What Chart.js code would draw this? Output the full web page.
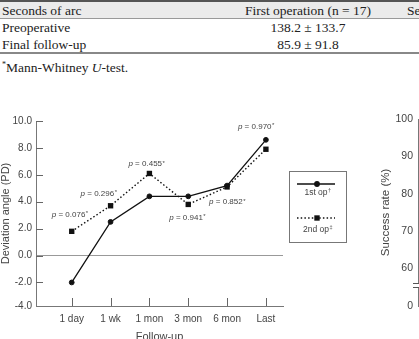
<!DOCTYPE html>
<html>
<head>
<meta charset="utf-8">
<script src="https://cdn.jsdelivr.net/npm/chart.js@4.4.1/dist/chart.umd.min.js"></script>
<style>
  html, body { margin: 0; padding: 0; background: #fff; overflow: hidden; }
  #page { position: relative; width: 419px; height: 339px; overflow: hidden; }
  .t { position: absolute; font-family: "Liberation Serif", "Times New Roman", serif; font-size: 13.5px; color: #222; white-space: nowrap; line-height: 16px; }
  .c { width: 180px; text-align: center; left: 218px; }
  .rule { position: absolute; left: 0; width: 419px; }
  sup { font-size: 8px; line-height: 0; vertical-align: 5px; }
  canvas { position: absolute; top: 0; }
</style>
</head>
<body>
<div id="page">
  <div class="rule" style="top:0;height:18px;background:#ebebeb"></div>
  <div class="rule" style="top:0;height:1.5px;background:#555"></div>
  <div class="rule" style="top:18px;height:1px;background:#999"></div>
  <div class="rule" style="top:52px;height:2px;background:#888"></div>
  <div class="t" style="left:2px;top:3px">Seconds of arc</div>
  <div class="t c" style="top:3px">First operation (n = 17)</div>
  <div class="t" style="left:407px;top:3px">Second operation</div>
  <div class="t" style="left:2px;top:20px">Preoperative</div>
  <div class="t c" style="top:20px">138.2 ± 133.7</div>
  <div class="t" style="left:2px;top:37px">Final follow-up</div>
  <div class="t c" style="top:37px">85.9 ± 91.8</div>
  <div class="t" style="left:2px;top:60px"><sup>*</sup>Mann-Whitney <i>U</i>-test.</div>

  <canvas id="dev" width="419" height="345" style="left:0"></canvas>
  <canvas id="succ" width="300" height="339" style="left:340px"></canvas>
</div>
<script>
// values
const categories = ['1 day', '1 wk', '1 mon', '3 mon', '6 mon', 'Last'];
const firstOp = [-2.0, 2.5, 4.4, 4.4, 5.2, 8.6];
const secondOp = [1.8, 3.7, 6.1, 3.8, 5.1, 7.9];
const pValues = ['0.076', '0.296', '0.455', '0.941', '0.852', '0.970'];
const seriesNames = ['1st op', '2nd op'];
const seriesMarks = ['\u2020', '\u2021'];
const devTicks = [-4, -2, 0, 2, 4, 6, 8, 10];
const successTicks = [0, 60, 70, 80, 90, 100];

const sans = '"Liberation Sans", Arial, Helvetica, sans-serif';
Chart.defaults.font.family = sans;
Chart.defaults.color = '#444';

// tick marks pointing into the plot
const innerTicks = {
  id: 'innerTicks',
  afterDraw(chart) {
    const { ctx, scales } = chart;
    ctx.save();
    ctx.strokeStyle = '#666';
    ctx.lineWidth = 1;
    ctx.beginPath();
    const y = scales.y;
    y.ticks.forEach(t => {
      if (t.value <= y.min) return;
      const py = Math.round(y.getPixelForValue(t.value)) + 0.5;
      ctx.moveTo(y.right, py);
      ctx.lineTo(y.right + 7, py);
    });
    const x = scales.x;
    if (x.options.display) {
      x.ticks.forEach(t => {
        const px = Math.round(x.getPixelForValue(t.value)) + 0.5;
        ctx.moveTo(px, x.top);
        ctx.lineTo(px, x.top - 8);
      });
    }
    ctx.stroke();
    ctx.restore();
  }
};

const pLabels = {
  id: 'pLabels',
  afterDatasetsDraw(chart, args, opts) {
    const { ctx, scales: { x, y } } = chart;
    ctx.save();
    ctx.fillStyle = '#444';
    ctx.textBaseline = 'middle';
    pValues.forEach((p, i) => {
      const [dx, dy, ref] = opts.place[i];
      const src = ref === 0 ? firstOp : secondOp;
      const cx = x.getPixelForValue(i) + dx;
      const cy = y.getPixelForValue(src[i]) + dy;
      const rest = ' = ' + p;
      ctx.font = 'italic 8px ' + sans;
      const w1 = ctx.measureText('p').width;
      ctx.font = '8px ' + sans;
      const w2 = ctx.measureText(rest).width;
      ctx.font = '6px ' + sans;
      const w3 = ctx.measureText('*').width;
      let sx = cx - (w1 + w2 + w3) / 2;
      ctx.textAlign = 'left';
      ctx.font = 'italic 8px ' + sans;
      ctx.fillText('p', sx, cy);
      sx += w1;
      ctx.font = '8px ' + sans;
      ctx.fillText(rest, sx, cy);
      sx += w2;
      ctx.font = '6px ' + sans;
      ctx.fillText('*', sx + 0.5, cy - 1);
    });
    ctx.restore();
  }
};

const boxLegend = {
  id: 'boxLegend',
  afterDraw(chart, args, o) {
    const ctx = chart.ctx;
    ctx.save();
    ctx.strokeStyle = '#777';
    ctx.lineWidth = 1;
    ctx.strokeRect(o.left + 0.5, o.top + 0.5, o.width, o.height);
    const cx = o.left + 28;
    chart.data.datasets.forEach((ds, i) => {
      const ly = o.top + o.rows[i][0];
      const ty = o.top + o.rows[i][1];
      ctx.strokeStyle = ds.borderColor;
      ctx.lineWidth = ds.borderWidth;
      ctx.setLineDash(ds.borderDash || []);
      ctx.beginPath();
      ctx.moveTo(o.left + 8, ly);
      ctx.lineTo(o.left + 46, ly);
      ctx.stroke();
      ctx.setLineDash([]);
      ctx.fillStyle = ds.pointBackgroundColor;
      ctx.beginPath();
      if (ds.pointStyle === 'rect') {
        const s = ds.pointRadius * Math.SQRT1_2;
        ctx.rect(cx - s, ly - s, 2 * s, 2 * s);
      } else {
        ctx.arc(cx, ly, ds.pointRadius + 0.5, 0, Math.PI * 2);
      }
      ctx.fill();
      ctx.fillStyle = '#444';
      ctx.textBaseline = 'middle';
      ctx.font = '8.5px ' + sans;
      const w = ctx.measureText(ds.label).width;
      ctx.textAlign = 'left';
      ctx.fillText(ds.label, cx - 1 - w / 2, ty);
      ctx.font = '5.5px ' + sans;
      ctx.fillText(seriesMarks[i], cx - 1 + w / 2 + 0.5, ty - 3);
    });
    ctx.restore();
  }
};

new Chart(document.getElementById('dev'), {
  type: 'line',
  data: {
    datasets: [
      {
        label: seriesNames[0],
        data: firstOp.map((v, i) => ({ x: i, y: v })),
        borderColor: '#111',
        borderWidth: 1.3,
        pointStyle: 'circle',
        pointRadius: 2.4,
        pointBorderWidth: 1,
        pointBackgroundColor: '#111',
        pointBorderColor: '#111',
        tension: 0
      },
      {
        label: seriesNames[1],
        data: secondOp.map((v, i) => ({ x: i, y: v })),
        borderColor: '#111',
        borderWidth: 1.4,
        borderDash: [1.5, 2.2],
        pointStyle: 'rect',
        pointRadius: 3.8,
        pointBorderWidth: 0,
        pointBackgroundColor: '#111',
        pointBorderColor: '#111',
        tension: 0
      }
    ]
  },
  options: {
    responsive: false,
    animation: false,
    layout: { padding: { top: 121, right: 136, left: 0, bottom: 0 } },
    plugins: {
      legend: { display: false },
      tooltip: { enabled: false },
      pLabels: { place: [[-2, -17, 1], [-12, -12, 1], [-3, -9.5, 1], [-1, 13, 1], [0, 15, 1], [-10, -13, 0]] },
      boxLegend: { left: 289, top: 171, width: 57, height: 71, rows: [[13, 22], [47, 59]] }
    },
    scales: {
      x: {
        type: 'linear',
        min: -0.92,
        max: 5.44,
        afterBuildTicks: s => { s.ticks = categories.map((c, i) => ({ value: i })); },
        afterFit: s => { s.height = 39; },
        grid: { drawOnChartArea: false, drawTicks: false },
        border: { color: '#777', width: 1 },
        ticks: { padding: 7, autoSkip: false, maxRotation: 0, font: { size: 10 }, callback: v => categories[v] },
        title: { display: true, text: 'Follow-up', font: { size: 11, lineHeight: 1 }, padding: { top: 0, bottom: 2.5 } }
      },
      y: {
        min: -3.75,
        max: 10,
        afterBuildTicks: s => { s.ticks = devTicks.map(v => ({ value: Math.max(v, s.min) })); },
        afterFit: s => { s.width = 36; },
        grid: { drawTicks: false, color: c => (c.tick && c.tick.value === 0 ? '#999' : 'rgba(0,0,0,0)') },
        border: { color: '#777', width: 1 },
        ticks: { padding: 4, font: { size: 10 }, callback: (v, i) => devTicks[i].toFixed(1) },
        title: { display: true, text: 'Deviation angle (PD)', font: { size: 11, lineHeight: 1 }, padding: { top: 0, bottom: 0 } }
      }
    }
  },
  plugins: [innerTicks, pLabels, boxLegend]
});

const axisBreak = {
  id: 'axisBreak',
  afterDraw(chart, args, o) {
    const { ctx, scales: { y } } = chart;
    const py = Math.round(y.getPixelForValue(o.at));
    const x = y.right;
    ctx.save();
    ctx.fillStyle = '#fff';
    ctx.fillRect(x - 2, py - 2, 4, 4);
    ctx.strokeStyle = '#555';
    ctx.lineWidth = 1;
    ctx.beginPath();
    ctx.moveTo(x - 5, py - 1.5); ctx.lineTo(x + 4, py - 1.5);
    ctx.moveTo(x - 5, py + 2.5); ctx.lineTo(x + 4, py + 2.5);
    ctx.stroke();
    ctx.restore();
  }
};

new Chart(document.getElementById('succ'), {
  type: 'line',
  data: { datasets: [] },
  options: {
    responsive: false,
    animation: false,
    layout: { padding: { top: 119, bottom: 33, left: 0, right: 0 } },
    plugins: { legend: { display: false }, tooltip: { enabled: false }, axisBreak: { at: 55.5 } },
    scales: {
      x: { type: 'linear', display: false, min: 0, max: 1 },
      y: {
        min: 50,
        max: 100,
        afterBuildTicks: s => { s.ticks = successTicks.map(v => ({ value: Math.max(v, s.min) })); },
        afterFit: s => { s.width = 78; },
        grid: { drawOnChartArea: false, drawTicks: false },
        border: { color: '#777', width: 1 },
        ticks: { padding: 5, font: { size: 10.5 }, callback: (v, i) => String(successTicks[i]) },
        title: { display: true, text: 'Success rate (%)', font: { size: 11.5, lineHeight: 1 }, padding: { top: 40, bottom: 0 } }
      }
    }
  },
  plugins: [axisBreak]
});
</script>
</body>
</html>
